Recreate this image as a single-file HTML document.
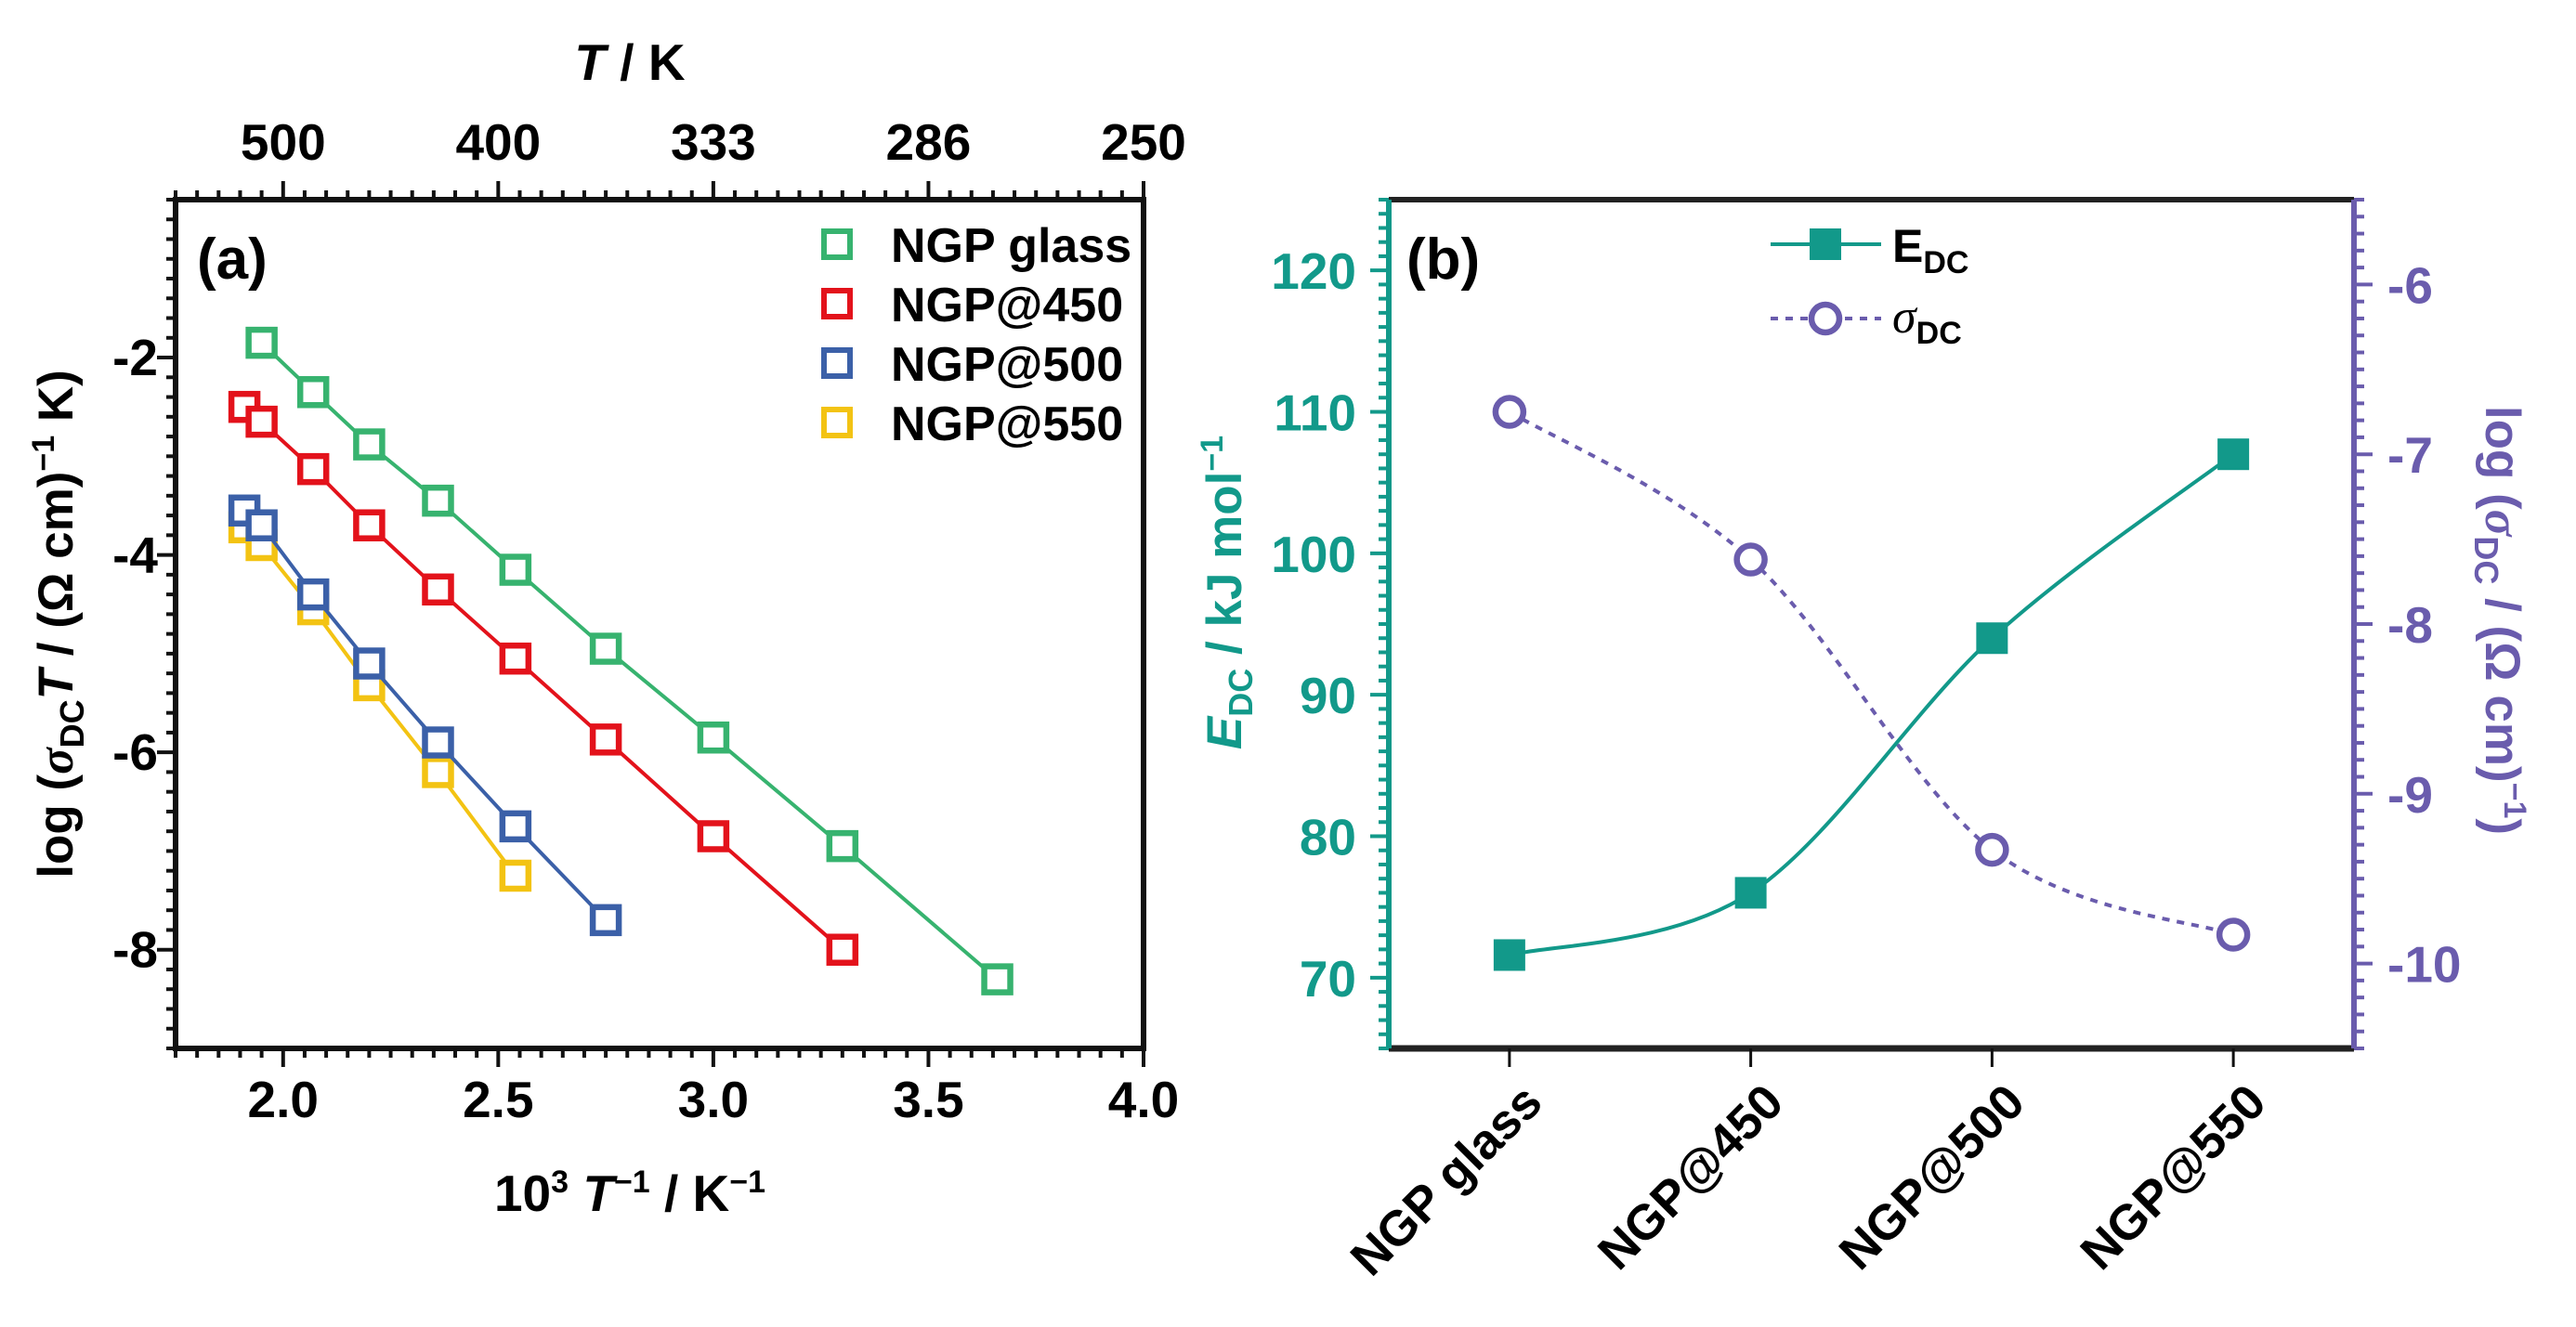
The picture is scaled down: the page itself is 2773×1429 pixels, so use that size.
<!DOCTYPE html>
<html><head><meta charset="utf-8"><style>
html,body{margin:0;padding:0;background:#fff;}
svg{display:block;font-family:"Liberation Sans",Arial,sans-serif;font-weight:bold;}
</style></head><body>
<svg id="fig" width="2773" height="1429" viewBox="0 0 2773 1429" xmlns="http://www.w3.org/2000/svg">
<g id="pa"></g>
<g id="pb"></g>
</svg>
<script>
// ---------- Panel (a) data ----------
const seriesNames = ["NGP glass","NGP@450","NGP@500","NGP@550"];
const glassX = [1.95,2.07,2.20,2.36,2.54,2.75,3.00,3.30,3.66];
const glassY = [-1.85,-2.35,-2.88,-3.45,-4.15,-4.95,-5.85,-6.95,-8.30];
const n450X = [1.91,1.95,2.07,2.20,2.36,2.54,2.75,3.00,3.30];
const n450Y = [-2.50,-2.65,-3.13,-3.70,-4.35,-5.05,-5.87,-6.85,-8.00];
const n500X = [1.91,1.95,2.07,2.20,2.36,2.54,2.75];
const n500Y = [-3.55,-3.70,-4.40,-5.10,-5.90,-6.75,-7.70];
const n550X = [1.91,1.95,2.07,2.20,2.36,2.54];
const n550Y = [-3.72,-3.90,-4.55,-5.32,-6.20,-7.25];
const xTicksA = [2.0,2.5,3.0,3.5,4.0];
const xTickLabelsA = ["2.0","2.5","3.0","3.5","4.0"];
const topTickLabels = ["500","400","333","286","250"];
const yTicksA = [-2,-4,-6,-8];
const yTickLabelsA = ["-2","-4","-6","-8"];
// ---------- Panel (b) data ----------
const categories = ["NGP glass","NGP@450","NGP@500","NGP@550"];
const edcValues = [71.6,76.0,94.0,107.0];
const sigmaValues = [-6.75,-7.62,-9.33,-9.83];
const yTicksBL = [70,80,90,100,110,120];
const yTicksBR = [-6,-7,-8,-9,-10];

const NS="http://www.w3.org/2000/svg";
function mk(parent,tag,attrs,text){const e=document.createElementNS(NS,tag);for(const k in attrs)e.setAttribute(k,attrs[k]);if(text!==undefined)e.textContent=text;parent.appendChild(e);return e;}

// ===== Panel a =====
const pa=document.getElementById('pa');
const AL=189,AR=1231,AT=215,AB=1129;
const axA=v=>AL+(v-1.75)/(4.0-1.75)*(AR-AL);
const ayA=v=>AB-(v-(-9))/((-0.4)-(-9))*(AB-AT);
for(let i=0;i<=45;i++){const v=1.75+i*0.05;const x=axA(v);const major=Math.abs((v*2)-Math.round(v*2))<1e-6;
 const L=major?20:10;
 let t=mk(pa,'line',{x1:x,y1:AB,x2:x,y2:AB+L,stroke:'#111','stroke-width':4});
 
 t=mk(pa,'line',{x1:x,y1:AT,x2:x,y2:AT-L,stroke:'#111','stroke-width':4});
 }
for(let i=0;i<=43;i++){const v=-9+i*0.2;const y=ayA(v);const major=Math.abs(v/2-Math.round(v/2))<1e-6;
 const t=mk(pa,'line',{x1:AL,y1:y,x2:AL-(major?20:10),y2:y,stroke:'#111','stroke-width':4});
 }
let fr=mk(pa,'rect',{x:AL,y:AT,width:AR-AL,height:AB-AT,fill:'none',stroke:'#111','stroke-width':6});

xTicksA.forEach((v,i)=>{let t=mk(pa,'text',{x:axA(v),y:1203,'font-size':55,'text-anchor':'middle'},xTickLabelsA[i]);
 
 t=mk(pa,'text',{x:axA(v),y:172,'font-size':55,'text-anchor':'middle'},topTickLabels[i]);
 });
yTicksA.forEach((v,i)=>{const t=mk(pa,'text',{x:170,y:ayA(v)+19,'font-size':55,'text-anchor':'end'},yTickLabelsA[i]);
 });
const colors=['#37b36f','#e3121b','#3b60a8','#f3c313'];
const xs=[glassX,n450X,n500X,n550X], ys=[glassY,n450Y,n500Y,n550Y];
[3,2,1,0].forEach(s=>{
 const pts=xs[s].map((x,i)=>axA(x)+','+ayA(ys[s][i])).join(' ');
 const pl=mk(pa,'polyline',{points:pts,fill:'none',stroke:colors[s],'stroke-width':4});
 
 xs[s].forEach((x,i)=>{const r=mk(pa,'rect',{x:axA(x)-14,y:ayA(ys[s][i])-14,width:28,height:28,fill:'#fff',stroke:colors[s],'stroke-width':6.5});
  });
});
seriesNames.forEach((n,i)=>{const y=263+i*64;
 const r=mk(pa,'rect',{x:901-14,y:y-14,width:28,height:28,fill:'#fff',stroke:colors[i],'stroke-width':6});
 
 const t=mk(pa,'text',{x:959,y:y+19,'font-size':52},n);
 });
let lab=mk(pa,'text',{x:212,y:300,'font-size':62},'(a)');

let tt=mk(pa,'text',{x:678,y:86,'font-size':55,'text-anchor':'middle'});

tt.innerHTML='<tspan font-style="italic">T</tspan> / K';
let xt=mk(pa,'text',{x:678,y:1304,'font-size':55,'text-anchor':'middle'});

xt.innerHTML='10<tspan dy="-20" font-size="34">3</tspan><tspan dy="20"> </tspan><tspan font-style="italic">T</tspan><tspan dy="-20" font-size="34">−1</tspan><tspan dy="20"> / K</tspan><tspan dy="-20" font-size="34">−1</tspan>';
let yt=mk(pa,'text',{x:0,y:0,'font-size':53,'text-anchor':'middle',transform:'translate(78,672) rotate(-90)'});

yt.innerHTML='log (<tspan font-style="italic" font-family="Liberation Serif">σ</tspan><tspan dy="12" font-size="36">DC</tspan><tspan dy="-12" font-style="italic">T</tspan> / (Ω cm)<tspan dy="-20" font-size="34">−1</tspan><tspan dy="20"> K)</tspan>';

// ===== Panel b =====
const pb=document.getElementById('pb');
const BL=1495,BR=2534,BT=215,BB=1129;
const TEAL='#12998a',PURP='#6a5cad';
const bx=i=>BL+(i+0.5)/4*(BR-BL);
const byL=v=>BB-(v-65)/60*(BB-BT);
const byR=v=>BB-(v-(-10.5))/5*(BB-BT);
for(let v=65;v<=125;v++){const y=byL(v);const major=v%10===0;
 const t=mk(pb,'line',{x1:BL,y1:y,x2:BL-(major?20:11),y2:y,stroke:TEAL,'stroke-width':4});
 }
for(let k=0;k<=50;k++){const v=-10.5+k*0.1;const y=byR(v);const major=Math.abs(v-Math.round(v))<1e-6;
 const t=mk(pb,'line',{x1:BR,y1:y,x2:BR+(major?20:11),y2:y,stroke:PURP,'stroke-width':4});
 }
let f1=mk(pb,'line',{x1:BL,y1:BT,x2:BR,y2:BT,stroke:'#222','stroke-width':6});
let f2=mk(pb,'line',{x1:BL,y1:BB,x2:BR,y2:BB,stroke:'#222','stroke-width':7});
let f3=mk(pb,'line',{x1:BL,y1:BT,x2:BL,y2:BB,stroke:TEAL,'stroke-width':6});
let f4=mk(pb,'line',{x1:BR,y1:BT,x2:BR,y2:BB,stroke:PURP,'stroke-width':6});
yTicksBL.forEach(v=>{const t=mk(pb,'text',{x:1460,y:byL(v)+20,'font-size':55,'text-anchor':'end',fill:TEAL},String(v));
 });
yTicksBR.forEach(v=>{const t=mk(pb,'text',{x:2570,y:byR(v)+20,'font-size':55,fill:PURP},String(v));
 });
categories.forEach((c,i)=>{const x=bx(i);
 const tk=mk(pb,'line',{x1:x,y1:BB,x2:x,y2:BB+20,stroke:'#111','stroke-width':3});
 
 const t=mk(pb,'text',{x:0,y:0,'font-size':53,'text-anchor':'end',transform:`translate(${x+38},${1190}) rotate(-45)`},c);
 });
function smooth(pts){let d='M'+pts[0][0]+','+pts[0][1];
 for(let i=0;i<pts.length-1;i++){const p0=pts[Math.max(0,i-1)],p1=pts[i],p2=pts[i+1],p3=pts[Math.min(pts.length-1,i+2)];
  const c1=[p1[0]+(p2[0]-p0[0])/6,p1[1]+(p2[1]-p0[1])/6],c2=[p2[0]-(p3[0]-p1[0])/6,p2[1]-(p3[1]-p1[1])/6];
  d+=` C${c1[0]},${c1[1]} ${c2[0]},${c2[1]} ${p2[0]},${p2[1]}`;}return d;}
const ePts=edcValues.map((v,i)=>[bx(i),byL(v)]);
const sPts=sigmaValues.map((v,i)=>[bx(i),byR(v)]);
let ps=mk(pb,'path',{d:smooth(sPts),fill:'none',stroke:PURP,'stroke-width':4,'stroke-dasharray':'8,8'});

let pe=mk(pb,'path',{d:smooth(ePts),fill:'none',stroke:TEAL,'stroke-width':4});

sPts.forEach(p=>{const c=mk(pb,'circle',{cx:p[0],cy:p[1],r:15,fill:'#fff',stroke:PURP,'stroke-width':6.5});
 });
ePts.forEach(p=>{const r=mk(pb,'rect',{x:p[0]-17,y:p[1]-17,width:34,height:34,fill:TEAL});
 });
let l1=mk(pb,'line',{x1:1906,y1:263,x2:2025,y2:263,stroke:TEAL,'stroke-width':4});
let m1=mk(pb,'rect',{x:1965-17,y:263-17,width:34,height:34,fill:TEAL});
let lt1=mk(pb,'text',{x:2037,y:282,'font-size':50});
lt1.innerHTML='E<tspan dy="12" font-size="34">DC</tspan>';
let l2=mk(pb,'line',{x1:1906,y1:343,x2:2025,y2:343,stroke:PURP,'stroke-width':4,'stroke-dasharray':'8,8'});
let m2=mk(pb,'circle',{cx:1965,cy:343,r:15,fill:'#fff',stroke:PURP,'stroke-width':6.5});
let lt2=mk(pb,'text',{x:2037,y:358,'font-size':52});
lt2.innerHTML='<tspan font-style="italic" font-family="Liberation Serif" font-weight="normal">σ</tspan><tspan dy="12" font-size="34">DC</tspan>';
let lb=mk(pb,'text',{x:1514,y:300,'font-size':62},'(b)');
let ylt=mk(pb,'text',{x:0,y:0,'font-size':53,'text-anchor':'middle',fill:TEAL,transform:'translate(1336,638) rotate(-90)'});

ylt.innerHTML='<tspan font-style="italic">E</tspan><tspan dy="12" font-size="36">DC</tspan><tspan dy="-12"> / kJ mol</tspan><tspan dy="-20" font-size="34">−1</tspan>';
let yrt=mk(pb,'text',{x:0,y:0,'font-size':53,'text-anchor':'middle',fill:PURP,transform:'translate(2676,668) rotate(90)'});

yrt.innerHTML='log (<tspan font-style="italic" font-family="Liberation Serif">σ</tspan><tspan dy="12" font-size="36">DC</tspan><tspan dy="-12"> / (Ω cm)</tspan><tspan dy="-20" font-size="34">−1</tspan><tspan dy="20">)</tspan>';
</script>
</body></html>
